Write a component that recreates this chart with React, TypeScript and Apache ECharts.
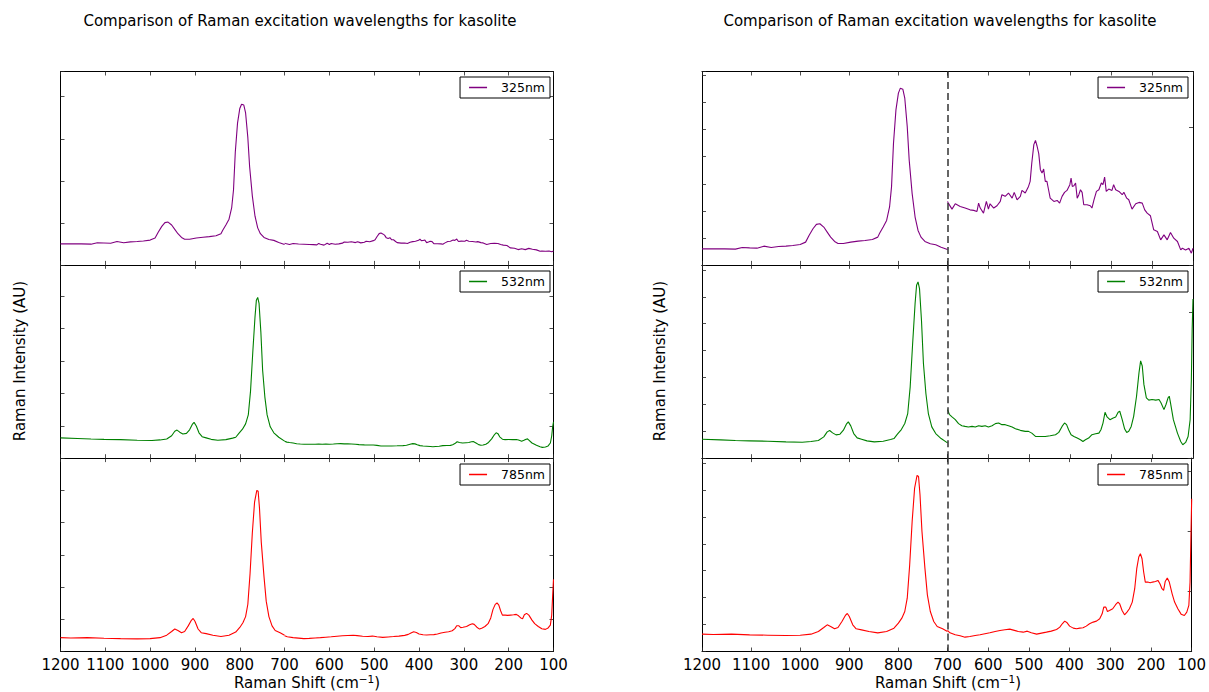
import React, { useEffect, useRef } from 'react';
import * as echarts from 'echarts';

// Spectra, Raman shift (cm-1) vs intensity. "hi" = 1200..700 cm-1, "lo" = 700..100 cm-1.
// hi intensities are in the units of the right panel's left axis, lo in units of its right axis.
const LASERS = ['325nm', '532nm', '785nm'];
const COLORS = ['#800080', '#008000', '#ff0000'];

const hi325 = [[1200,0.594],[1176,0.594],[1154,0.594],[1132,0.582],[1118,0.644],[1103,0.631],[1088,0.619],[1074,0.693],[1059,0.644],[1044,0.681],[1029,0.693],[1015,0.718],[1000,0.755],[989,0.842],[982,1.089],[974,1.337],[967,1.498],[960,1.522],[952,1.399],[945,1.213],[938,1.027],[930,0.866],[923,0.792],[912,0.792],[897,0.842],[882,0.879],[868,0.903],[853,0.941],[842,1.027],[838,1.176],[831,1.399],[824,1.646],[818,2.141],[814,2.884],[810,4.493],[805,5.730],[800,6.349],[796,6.535],[791,6.498],[787,6.163],[782,5.111],[778,3.874],[772,2.636],[766,1.770],[760,1.275],[754,1.027],[746,0.866],[735,0.780],[724,0.743],[713,0.656],[700,0.569]];
const lo325 = [[700,0.461],[698,0.449],[689,0.405],[681,0.444],[669,0.425],[657,0.413],[645,0.400],[636,0.396],[628,0.388],[624,0.449],[620,0.413],[612,0.376],[605,0.461],[600,0.405],[596,0.444],[587,0.413],[579,0.430],[571,0.461],[567,0.510],[559,0.498],[551,0.522],[542,0.485],[537,0.527],[530,0.473],[522,0.498],[518,0.541],[510,0.522],[502,0.570],[498,0.607],[494,0.740],[489,0.874],[485,0.905],[481,0.862],[477,0.808],[473,0.692],[469,0.667],[465,0.697],[461,0.607],[457,0.607],[453,0.546],[449,0.485],[440,0.461],[432,0.468],[426,0.449],[420,0.498],[414,0.527],[408,0.541],[401,0.583],[398,0.631],[395,0.570],[391,0.575],[387,0.595],[383,0.485],[379,0.510],[375,0.546],[371,0.527],[367,0.437],[359,0.437],[351,0.430],[347,0.413],[342,0.473],[336,0.534],[330,0.546],[324,0.595],[320,0.583],[316,0.638],[312,0.534],[306,0.551],[298,0.541],[294,0.583],[289,0.546],[281,0.534],[273,0.510],[269,0.527],[262,0.485],[257,0.473],[249,0.405],[240,0.444],[232,0.454],[224,0.449],[218,0.400],[212,0.376],[204,0.357],[196,0.255],[187,0.243],[179,0.182],[171,0.218],[163,0.182],[155,0.235],[147,0.194],[138,0.170],[130,0.109],[126,0.121],[118,0.109],[110,0.121],[104,0.085],[100,0.121]];

const hi532 = [[1200,0.706],[1162,0.682],[1132,0.657],[1103,0.644],[1066,0.632],[1029,0.607],[996,0.595],[978,0.620],[963,0.657],[952,0.793],[945,0.979],[940,1.029],[934,0.942],[927,0.867],[919,0.892],[912,1.041],[906,1.264],[902,1.351],[897,1.202],[891,0.917],[884,0.756],[875,0.706],[864,0.644],[849,0.607],[831,0.632],[816,0.694],[809,0.731],[802,0.892],[794,1.066],[787,1.289],[781,1.660],[776,2.652],[771,4.263],[766,5.750],[763,6.431],[760,6.555],[757,6.307],[753,5.130],[749,3.519],[744,2.404],[739,1.660],[732,1.165],[724,0.917],[713,0.731],[700,0.570]];
const lo532 = [[700,0.333],[695,0.299],[689,0.283],[681,0.264],[673,0.237],[665,0.223],[657,0.218],[649,0.214],[640,0.218],[632,0.214],[624,0.223],[616,0.218],[608,0.223],[600,0.214],[591,0.223],[583,0.237],[575,0.241],[567,0.230],[559,0.230],[551,0.223],[542,0.214],[534,0.202],[522,0.191],[510,0.184],[502,0.184],[494,0.172],[485,0.149],[473,0.149],[461,0.149],[449,0.154],[436,0.161],[428,0.177],[420,0.218],[414,0.241],[409,0.230],[404,0.195],[398,0.161],[391,0.149],[383,0.138],[375,0.126],[369,0.115],[363,0.126],[355,0.138],[347,0.161],[338,0.168],[330,0.172],[325,0.195],[320,0.241],[315,0.315],[310,0.283],[303,0.264],[295,0.276],[289,0.283],[283,0.315],[279,0.322],[273,0.264],[267,0.200],[262,0.177],[257,0.184],[251,0.218],[245,0.287],[238,0.425],[232,0.586],[228,0.667],[224,0.632],[220,0.506],[214,0.414],[208,0.398],[200,0.402],[191,0.398],[183,0.402],[178,0.379],[171,0.333],[166,0.368],[161,0.414],[158,0.425],[155,0.379],[148,0.264],[138,0.172],[130,0.115],[125,0.092],[118,0.108],[112,0.149],[107,0.264],[104,0.540],[102,0.885],[100,1.092]];

const hi785 = [[1200,0.644],[1177,0.631],[1140,0.644],[1103,0.619],[1066,0.606],[1029,0.594],[1000,0.606],[978,0.644],[963,0.743],[952,0.891],[945,0.990],[938,0.928],[930,0.842],[923,0.891],[915,1.114],[908,1.337],[904,1.411],[900,1.300],[893,0.990],[886,0.842],[875,0.804],[860,0.743],[842,0.693],[824,0.743],[809,0.866],[800,1.052],[793,1.238],[787,1.485],[782,1.980],[777,3.218],[772,4.827],[767,6.064],[762,6.535],[759,6.498],[756,5.817],[752,4.455],[746,3.094],[741,2.104],[735,1.485],[728,1.114],[721,0.928],[710,0.842],[700,0.743]];
const lo785 = [[700,0.349],[694,0.310],[681,0.277],[669,0.260],[657,0.238],[645,0.249],[632,0.266],[620,0.277],[608,0.294],[596,0.310],[583,0.332],[571,0.349],[559,0.360],[547,0.371],[538,0.355],[526,0.332],[514,0.321],[504,0.338],[494,0.310],[481,0.288],[469,0.305],[457,0.321],[445,0.338],[432,0.366],[424,0.404],[418,0.460],[412,0.504],[406,0.476],[400,0.421],[391,0.388],[383,0.377],[375,0.388],[367,0.393],[359,0.421],[351,0.460],[342,0.488],[334,0.504],[326,0.543],[320,0.626],[316,0.737],[311,0.737],[307,0.665],[302,0.681],[294,0.709],[287,0.776],[281,0.820],[277,0.792],[271,0.681],[265,0.609],[259,0.654],[253,0.709],[246,0.820],[240,1.042],[235,1.374],[230,1.568],[226,1.623],[222,1.540],[218,1.319],[214,1.152],[208,1.152],[202,1.141],[196,1.152],[189,1.163],[183,1.180],[178,1.125],[173,1.042],[169,1.014],[165,1.163],[160,1.219],[155,1.152],[148,0.958],[142,0.820],[134,0.709],[126,0.620],[118,0.598],[112,0.654],[107,0.765],[104,1.152],[102,1.873],[100,2.537]];

const HI = [hi325, hi532, hi785];
const LO = [lo325, lo532, lo785];

// axis scales
const LEFT_TICK_MAX = [4.6, 5.96, 6.0];
const LEFT_HI_RANGE = [[-0.30, 7.925], [-0.141, 7.911], [0.09, 7.824]];
const LEFT_LO_RANGE = [[-0.48, 7.892], [-0.333, 7.266], [-0.26, 7.24]];
const RIGHT_HI_MAX = [7.15, 7.19, 7.18];
const RIGHT_LO_MAX = [1.405, 1.326, 3.21];

const TITLE = 'Comparison of Raman excitation wavelengths for kasolite';
const Y_NAME = 'Raman Intensity (AU)';

const FONT = 'DejaVu Sans';
const FS = 15;

// layout
const TOPS = [71.5, 264.8, 458.1];
const GH = 193.4;
const LP = { left: 60.5, width: 493 };
const RP = { left: 702, mid: 947.5, right: 1193 };

function xAxisDef(gridIndex: number, min: number, max: number, position: string, labels: boolean, hideMin: boolean) {
  return {
    type: 'value', gridIndex, min, max, interval: 100, inverse: true, position,
    axisLine: { show: true, onZero: false, lineStyle: { color: '#000', width: 1 } },
    axisTick: { show: true, inside: true, length: 4, lineStyle: { color: '#222', width: 0.8 } },
    axisLabel: {
      show: labels, formatter: (v: number) => String(v), fontSize: FS, color: '#000', margin: 6,
      fontFamily: FONT, showMinLabel: !hideMin, showMaxLabel: true,
    },
    splitLine: { show: false },
  };
}
function yTickDef(gridIndex: number, max: number, position: string) {
  return {
    type: 'value', gridIndex, min: 0, max, interval: 1, position,
    axisLine: { show: true, onZero: false, lineStyle: { color: '#000', width: 1 } },
    axisTick: { show: true, inside: true, length: 4, lineStyle: { color: '#222', width: 0.8 } },
    axisLabel: { show: false },
    splitLine: { show: false },
  };
}
function yHiddenDef(gridIndex: number, min: number, max: number) {
  return { type: 'value', gridIndex, min, max, show: false, splitLine: { show: false } };
}

function buildOption() {
  const grid: any[] = [];
  const xAxis: any[] = [];
  const yAxis: any[] = [];
  const series: any[] = [];
  const legend: any[] = [];

  const lineStyle = (i: number) => ({ width: 1.1, color: COLORS[i] });

  // left panel
  for (let i = 0; i < 3; i++) {
    const g = grid.length;
    grid.push({ left: LP.left, top: TOPS[i], width: LP.width, height: GH });
    const xb = xAxis.length;
    xAxis.push(xAxisDef(g, 100, 1200, 'bottom', i === 2, false));
    xAxis.push(xAxisDef(g, 100, 1200, 'top', false, false));
    yAxis.push(yTickDef(g, LEFT_TICK_MAX[i], 'left'));
    yAxis.push(yTickDef(g, LEFT_TICK_MAX[i], 'right'));
    const yh = yAxis.length;
    yAxis.push(yHiddenDef(g, LEFT_HI_RANGE[i][0], LEFT_HI_RANGE[i][1]));
    const yl = yAxis.length;
    yAxis.push(yHiddenDef(g, LEFT_LO_RANGE[i][0], LEFT_LO_RANGE[i][1]));
    series.push({ type: 'line', name: LASERS[i], xAxisIndex: xb, yAxisIndex: yh, data: HI[i], symbol: 'none', color: COLORS[i], lineStyle: lineStyle(i), silent: true });
    series.push({ type: 'line', name: LASERS[i], xAxisIndex: xb, yAxisIndex: yl, data: LO[i], symbol: 'none', color: COLORS[i], lineStyle: lineStyle(i), silent: true });
  }
  // right panel, high-shift half
  for (let i = 0; i < 3; i++) {
    const g = grid.length;
    grid.push({ left: RP.left, top: TOPS[i], width: RP.mid - RP.left, height: GH });
    const xb = xAxis.length;
    xAxis.push(xAxisDef(g, 700, 1200, 'bottom', i === 2, true));
    xAxis.push(xAxisDef(g, 700, 1200, 'top', false, false));
    const yh = yAxis.length;
    yAxis.push(yTickDef(g, RIGHT_HI_MAX[i], 'left'));
    series.push({ type: 'line', name: LASERS[i], xAxisIndex: xb, yAxisIndex: yh, data: HI[i], symbol: 'none', color: COLORS[i], lineStyle: lineStyle(i), silent: true });
  }
  // right panel, low-shift half
  for (let i = 0; i < 3; i++) {
    const g = grid.length;
    grid.push({ left: RP.mid, top: TOPS[i], width: RP.right - RP.mid, height: GH });
    const xb = xAxis.length;
    xAxis.push(xAxisDef(g, 100, 700, 'bottom', i === 2, false));
    xAxis.push(xAxisDef(g, 100, 700, 'top', false, false));
    const yl = yAxis.length;
    yAxis.push(yTickDef(g, RIGHT_LO_MAX[i], 'right'));
    series.push({
      type: 'line', name: LASERS[i], xAxisIndex: xb, yAxisIndex: yl, data: LO[i], symbol: 'none',
      color: COLORS[i], lineStyle: lineStyle(i), silent: true, clip: false,
      markLine: {
        silent: true, symbol: ['none', 'none'], label: { show: false },
        lineStyle: { type: [7, 4], color: '#333', width: 1.5 },
        data: [{ xAxis: 700 }],
      },
    });
  }

  const legendTops = [77, 271, 464];
  const legendRights = [1209 - 550, 1209 - 1188];
  for (const r of legendRights) {
    for (let i = 0; i < 3; i++) {
      legend.push({
        data: [LASERS[i]], top: legendTops[i], right: r, orient: 'horizontal',
        icon: 'rect', itemWidth: 18, itemHeight: 1.5, itemGap: 0,
        padding: [4, 5, 4, 9], borderColor: '#000', borderWidth: 1, borderRadius: 0,
        backgroundColor: '#fff', selectedMode: false,
        textStyle: { fontSize: 12.5, color: '#000', fontFamily: FONT, padding: [0, 0, 0, 9], lineHeight: 13 },
      });
    }
  }

  const xName = (x: number) => ({
    type: 'text', x, y: 683,
    style: {
      text: '{a|Raman Shift (cm}{b|−1}{a|)}', textAlign: 'center', textVerticalAlign: 'middle',
      rich: {
        a: { fontSize: FS, fontFamily: FONT, fill: '#000', lineHeight: 19 },
        b: { fontSize: 10.5, fontFamily: FONT, fill: '#000', lineHeight: 11, verticalAlign: 'top' },
      },
    },
  });
  const yName = (x: number) => ({
    type: 'text', x, y: 361, rotation: Math.PI / 2,
    style: { text: Y_NAME, fontSize: FS, fontFamily: FONT, fill: '#000', textAlign: 'center', textVerticalAlign: 'middle' },
  });
  const title = (x: number) => ({
    type: 'text', x, y: 21,
    style: { text: TITLE, fontSize: FS, fontFamily: FONT, fill: '#000', textAlign: 'center', textVerticalAlign: 'middle' },
  });

  return {
    animation: false,
    backgroundColor: '#fff',
    textStyle: { fontFamily: FONT },
    grid, xAxis, yAxis, series, legend,
    graphic: [title(300), title(940), yName(20), yName(660), xName(307), xName(948)],
  };
}

export default function App() {
  const ref = useRef<HTMLDivElement>(null);
  useEffect(() => {
    if (!ref.current) return;
    const chart = echarts.init(ref.current, null, { renderer: 'svg' });
    chart.setOption(buildOption() as any);
    return () => chart.dispose();
  }, []);
  return <div ref={ref} style={{ position: 'absolute', left: 0, top: 0, width: 1209, height: 692 }} />;
}
